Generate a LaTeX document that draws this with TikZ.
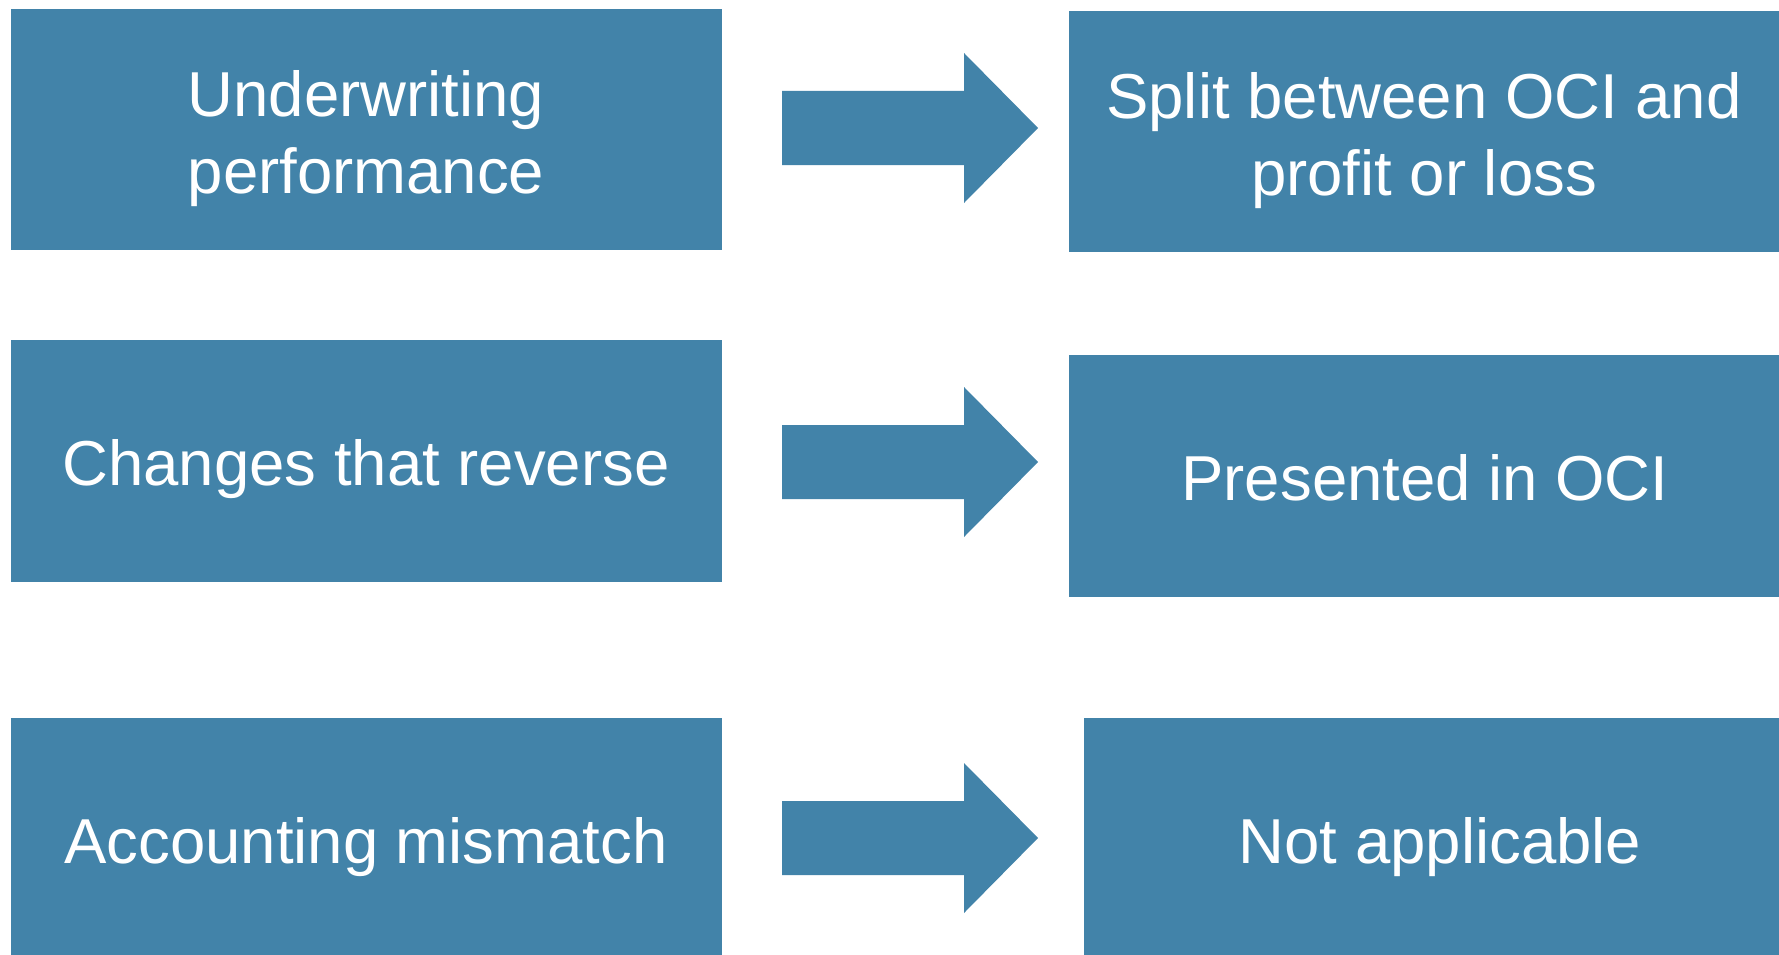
\documentclass[tikz,border=0pt]{standalone}
\usepackage{fontspec}
\setmainfont{Liberation Sans}
\definecolor{boxblue}{HTML}{4283A9}
\begin{document}
\begin{tikzpicture}[x=1pt,y=-1pt,
  box/.style={fill=boxblue, draw=none, inner sep=0pt, outer sep=0pt, anchor=north west},
  lbl/.style={text=white, font=\fontsize{63.5}{77}\selectfont, align=center, anchor=base, inner sep=0pt},
  barrow/.pic={\fill[boxblue] (0,-37) -- (182,-37) -- (182,-75) -- (256,0) -- (182,75) -- (182,37) -- (0,37) -- cycle;}]
\useasboundingbox (0,0) rectangle (1779,955);

% left column
\node[box, minimum width=711pt, minimum height=241pt] (l1) at (11,9) {};
\node[box, minimum width=711pt, minimum height=242pt] (l2) at (11,340) {};
\node[box, minimum width=711pt, minimum height=237pt] (l3) at (11,718) {};

% right column
\node[box, minimum width=710pt, minimum height=241pt] (r1) at (1069,11) {};
\node[box, minimum width=710pt, minimum height=242pt] (r2) at (1069,355) {};
\node[box, minimum width=695pt, minimum height=237pt] (r3) at (1084,718) {};

% block arrows between the columns
\pic (a1) at (782,128) {barrow};
\pic (a2) at (782,462) {barrow};
\pic (a3) at (782,838) {barrow};

% labels (base anchor sits on the last line's baseline)
\node[lbl] (t1) at (366,193) {Underwriting\\performance};
\node[lbl] (t2) at (366,485) {Changes that reverse};
\node[lbl] (t3) at (366,863) {Accounting mismatch};
\node[lbl] (t4) at (1424,195) {Split between OCI and\\profit or loss};
\node[lbl] (t5) at (1425,500) {Presented in OCI};
\node[lbl] (t6) at (1440,863) {Not applicable};
\end{tikzpicture}
\end{document}
